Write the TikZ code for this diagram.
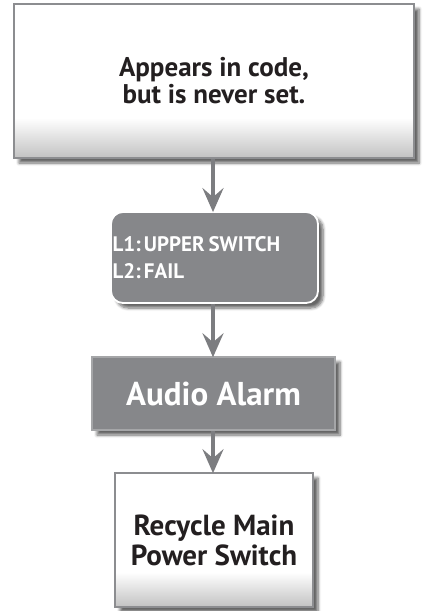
\documentclass[tikz,border=0pt]{standalone}
\usepackage{fontspec}
\setmainfont{PT Sans}
\frenchspacing
\usetikzlibrary{arrows.meta,shadows.blur}
\definecolor{boxgray}{HTML}{86878A}
\definecolor{arrowgray}{HTML}{7C7D80}
\definecolor{edgegray}{HTML}{8C8D90}
\definecolor{lightedge}{HTML}{A5A6A8}
\definecolor{textdark}{HTML}{231F20}
\pgfdeclareverticalshading{whitebox}{100bp}{color(0bp)=(black!24); color(25bp)=(black!24); color(38bp)=(white); color(100bp)=(white)}
\tikzset{
  shadowed/.style={blur shadow={shadow xshift=5pt, shadow yshift=-5pt, shadow blur steps=6, shadow opacity=60, shadow blur radius=3pt}},
  whitenode/.style={draw=edgegray, line width=1.6pt, shading=whitebox, shadowed, text=textdark, font=\bfseries, align=center, inner sep=0pt},
  graynode/.style={fill=boxgray, shadowed, text=white, font=\bfseries, inner sep=0pt},
  flowarrow/.style={draw=arrowgray, line width=4.5pt, -{Stealth[length=24pt,width=21pt,inset=9pt]}, shorten >=-1pt}
}
\begin{document}
\begin{tikzpicture}[x=1pt,y=1pt]
\useasboundingbox (0,0) rectangle (425,-611);
\node[whitenode, minimum width=400pt, minimum height=154pt, font=\fontsize{27}{27}\selectfont\bfseries] (top) at (214,-81) {Appears in code,\\but is never set.};
\node[graynode, draw=white, line width=1.8pt, rounded corners=12pt, minimum width=207pt, minimum height=91pt, text width=204pt, align=left, inner xsep=1.5pt, font=\fontsize{21}{27.5}\selectfont\bfseries] (state) at (214.5,-257.5) {L1:\hspace{0.15em}UPPER\hspace{0.18em}SWITCH\\L2:\hspace{0.15em}FAIL};
\node[graynode, draw=lightedge, line width=1.5pt, minimum width=243pt, minimum height=73pt, font=\fontsize{33}{36}\selectfont\bfseries] (alarm) at (213.5,-393.5) {Audio Alarm};
\node[whitenode, minimum width=198pt, minimum height=134pt, font=\fontsize{29}{30}\selectfont\bfseries] (recycle) at (214,-540) {Recycle Main\\Power Switch};
\draw[flowarrow] (top.south -| 213,0) -- (state.north -| 213,0);
\draw[flowarrow] (state.south -| 213,0) -- (alarm.north -| 213,0);
\draw[flowarrow] (alarm.south -| 213,0) -- (recycle.north -| 213,0);
\end{tikzpicture}
\end{document}
